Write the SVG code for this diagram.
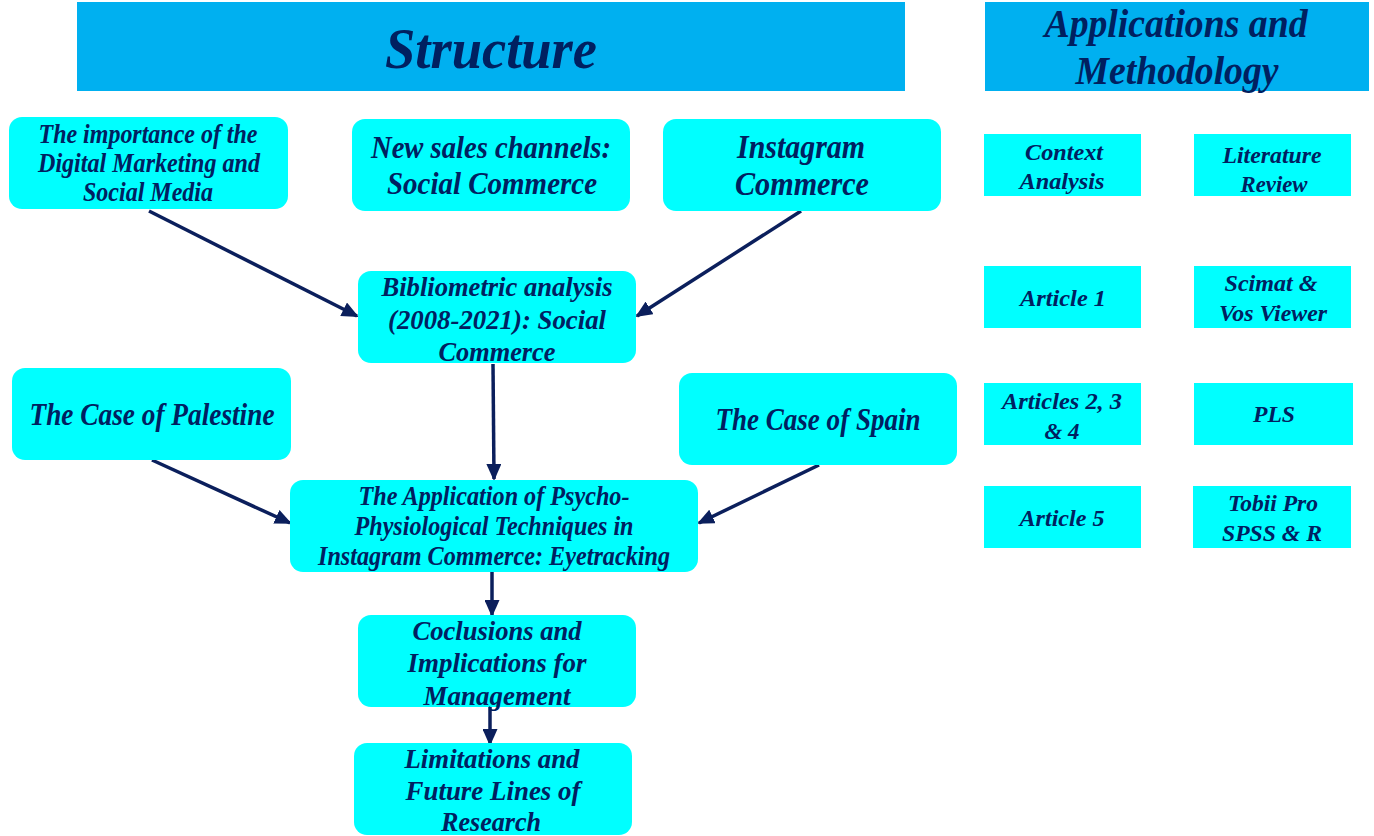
<svg xmlns="http://www.w3.org/2000/svg" width="1374" height="836" viewBox="0 0 1374 836">
<defs>
<style>
.hdr{fill:#00B0F0}
.box{fill:#00FFFF}
text{font-family:"Liberation Serif","Times New Roman",serif;font-weight:bold;font-style:italic;fill:#002060;text-anchor:middle}
.con{stroke:#0B1F5C;stroke-width:3.5;fill:none;marker-end:url(#ah)}
</style>
<marker id="ah" markerUnits="userSpaceOnUse" markerWidth="17" markerHeight="15" refX="15" refY="7.5" orient="auto">
<path d="M0,0 L17,7.5 L0,15 Z" fill="#0B1F5C"/>
</marker>
</defs>
<g id="header-structure">
<rect class="hdr" x="77" y="2" width="828" height="89"/>
<text x="491" y="68" font-size="58" textLength="212" lengthAdjust="spacingAndGlyphs">Structure</text>
</g>
<g id="header-applications">
<rect class="hdr" x="985" y="2" width="384" height="89"/>
<text x="1176" y="37" font-size="41" textLength="263" lengthAdjust="spacingAndGlyphs">Applications and</text>
<text x="1177" y="84" font-size="41" textLength="203" lengthAdjust="spacingAndGlyphs">Methodology</text>
</g>
<g id="connectors">
<line class="con" x1="149" y1="211" x2="357" y2="316"/>
<line class="con" x1="801" y1="211" x2="637" y2="316"/>
<line class="con" x1="493" y1="364" x2="494" y2="479"/>
<line class="con" x1="152" y1="460" x2="290" y2="523"/>
<line class="con" x1="819" y1="465" x2="699" y2="523"/>
<line class="con" x1="492" y1="572" x2="492" y2="615"/>
<line class="con" x1="490" y1="707" x2="490" y2="744"/>
</g>
<g id="n-importance">
<rect class="box" x="9" y="117" width="279" height="92" rx="13"/>
<text x="148" y="143" font-size="27" textLength="219" lengthAdjust="spacingAndGlyphs">The importance of the</text>
<text x="149" y="172" font-size="27" textLength="222" lengthAdjust="spacingAndGlyphs">Digital Marketing and</text>
<text x="148" y="201" font-size="27" textLength="130" lengthAdjust="spacingAndGlyphs">Social Media</text>
</g>
<g id="n-newsales">
<rect class="box" x="352" y="119" width="278" height="92" rx="13"/>
<text x="491" y="158" font-size="32" textLength="240" lengthAdjust="spacingAndGlyphs">New sales channels:</text>
<text x="492" y="194" font-size="32" textLength="210" lengthAdjust="spacingAndGlyphs">Social Commerce</text>
</g>
<g id="n-instagram">
<rect class="box" x="663" y="119" width="278" height="92" rx="13"/>
<text x="801" y="158" font-size="33" textLength="128" lengthAdjust="spacingAndGlyphs">Instagram</text>
<text x="802" y="195" font-size="33" textLength="134" lengthAdjust="spacingAndGlyphs">Commerce</text>
</g>
<g id="n-bibliometric">
<rect class="box" x="358" y="271" width="278" height="92" rx="13"/>
<text x="497" y="296" font-size="28" textLength="231" lengthAdjust="spacingAndGlyphs">Bibliometric analysis</text>
<text x="497" y="329" font-size="28" textLength="218" lengthAdjust="spacingAndGlyphs">(2008-2021): Social</text>
<text x="497" y="361" font-size="28" textLength="117" lengthAdjust="spacingAndGlyphs">Commerce</text>
</g>
<g id="n-palestine">
<rect class="box" x="12" y="368" width="279" height="92" rx="13"/>
<text x="152" y="425" font-size="31" textLength="245" lengthAdjust="spacingAndGlyphs">The Case of Palestine</text>
</g>
<g id="n-spain">
<rect class="box" x="679" y="373" width="278" height="92" rx="13"/>
<text x="818" y="430" font-size="31" textLength="205" lengthAdjust="spacingAndGlyphs">The Case of Spain</text>
</g>
<g id="n-application">
<rect class="box" x="290" y="480" width="408" height="92" rx="13"/>
<text x="494" y="505" font-size="27" textLength="271" lengthAdjust="spacingAndGlyphs">The Application of Psycho-</text>
<text x="494" y="535" font-size="27" textLength="279" lengthAdjust="spacingAndGlyphs">Physiological Techniques in</text>
<text x="494" y="565" font-size="27" textLength="352" lengthAdjust="spacingAndGlyphs">Instagram Commerce: Eyetracking</text>
</g>
<g id="n-conclusions">
<rect class="box" x="358" y="615" width="278" height="92" rx="13"/>
<text x="497" y="640" font-size="28" textLength="169" lengthAdjust="spacingAndGlyphs">Coclusions and</text>
<text x="497" y="672" font-size="28" textLength="179" lengthAdjust="spacingAndGlyphs">Implications for</text>
<text x="497" y="705" font-size="28" textLength="147" lengthAdjust="spacingAndGlyphs">Management</text>
</g>
<g id="n-limitations">
<rect class="box" x="354" y="743" width="278" height="92" rx="13"/>
<text x="492" y="768" font-size="28" textLength="175" lengthAdjust="spacingAndGlyphs">Limitations and</text>
<text x="493" y="800" font-size="28" textLength="175" lengthAdjust="spacingAndGlyphs">Future Lines of</text>
<text x="491" y="831" font-size="28" textLength="100" lengthAdjust="spacingAndGlyphs">Research</text>
</g>
<g id="m-context">
<rect class="box" x="984" y="134" width="157" height="62"/>
<text x="1064" y="160" font-size="24" textLength="78" lengthAdjust="spacingAndGlyphs">Context</text>
<text x="1062" y="189" font-size="24" textLength="85" lengthAdjust="spacingAndGlyphs">Analysis</text>
</g>
<g id="m-literature">
<rect class="box" x="1194" y="134" width="157" height="62"/>
<text x="1272" y="163" font-size="24" textLength="99" lengthAdjust="spacingAndGlyphs">Literature</text>
<text x="1274" y="192" font-size="24" textLength="67" lengthAdjust="spacingAndGlyphs">Review</text>
</g>
<g id="m-article1">
<rect class="box" x="984" y="266" width="157" height="62"/>
<text x="1063" y="306" font-size="24" textLength="86" lengthAdjust="spacingAndGlyphs">Article 1</text>
</g>
<g id="m-scimat">
<rect class="box" x="1194" y="266" width="157" height="62"/>
<text x="1271" y="291" font-size="24" textLength="93" lengthAdjust="spacingAndGlyphs">Scimat &amp;</text>
<text x="1273" y="321" font-size="24" textLength="108" lengthAdjust="spacingAndGlyphs">Vos Viewer</text>
</g>
<g id="m-articles234">
<rect class="box" x="984" y="383" width="157" height="62"/>
<text x="1062" y="409" font-size="24" textLength="120" lengthAdjust="spacingAndGlyphs">Articles 2, 3</text>
<text x="1062" y="439" font-size="24" textLength="35" lengthAdjust="spacingAndGlyphs">&amp; 4</text>
</g>
<g id="m-pls">
<rect class="box" x="1194" y="383" width="159" height="62"/>
<text x="1274" y="422" font-size="24" textLength="42" lengthAdjust="spacingAndGlyphs">PLS</text>
</g>
<g id="m-article5">
<rect class="box" x="984" y="486" width="157" height="62"/>
<text x="1062" y="526" font-size="24" textLength="85" lengthAdjust="spacingAndGlyphs">Article 5</text>
</g>
<g id="m-tobii">
<rect class="box" x="1193" y="486" width="158" height="62"/>
<text x="1273" y="511" font-size="24" textLength="90" lengthAdjust="spacingAndGlyphs">Tobii Pro</text>
<text x="1272" y="541" font-size="24" textLength="100" lengthAdjust="spacingAndGlyphs">SPSS &amp; R</text>
</g>
</svg>
